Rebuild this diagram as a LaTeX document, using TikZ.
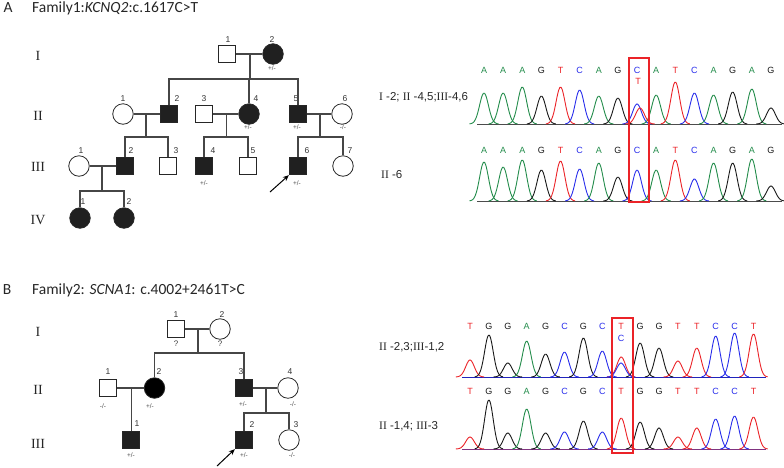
\documentclass[tikz,border=0pt]{standalone}
\usepackage{fontspec}
\setmainfont{Liberation Serif}
\setsansfont{Liberation Sans}
\newfontfamily\titlefont{Carlito}
\usetikzlibrary{calc,arrows.meta}
\definecolor{cgreen}{RGB}{35,140,75}
\definecolor{cred}{RGB}{235,35,40}
\definecolor{cblue}{RGB}{40,45,235}
\definecolor{cblack}{RGB}{25,25,25}
\definecolor{pedline}{RGB}{70,70,70}
\definecolor{pedfill}{RGB}{32,32,32}
\newcommand{\pk}[5]{%
  \pgfmathsetmacro\pklo{#1-3.3*#5}\pgfmathsetmacro\pkhi{#1+3.3*#5}%
  \draw[#4,trace] plot[domain=\pklo:\pkhi,samples=26,smooth] (\x,{#2-(#2-#3)*exp(-0.5*((\x-#1)/#5)^2)});}
\begin{document}
\begin{tikzpicture}[x=1pt,y=-1pt,
  sq/.style={draw=black!85,rectangle,minimum size=17.5pt,inner sep=0pt,line width=0.8pt,fill=white},
  ci/.style={draw=black!85,circle,minimum size=20.5pt,inner sep=0pt,line width=0.8pt,fill=white},
  aff/.style={fill=pedfill},
  lnk/.style={draw=pedline,line width=1.2pt},
  num/.style={font=\sffamily\fontsize{8.5}{9}\selectfont,text=black!80,inner sep=0pt},
  gt/.style={font=\sffamily\fontsize{6.5}{7}\selectfont,text=black!70,inner sep=0pt},
  qm/.style={font=\sffamily\fontsize{8}{8}\selectfont,text=black!75,inner sep=0pt},
  gen/.style={font=\rmfamily\fontsize{14}{14}\selectfont,text=black!85,inner sep=0pt},
  ttl/.style={font=\titlefont\fontsize{15.5}{16}\selectfont,text=black!85,inner sep=0pt,anchor=west},
  lab/.style={font=\sffamily\fontsize{11.5}{12}\selectfont,text=black!85,inner sep=0pt,anchor=west},
  bch/.style={font=\sffamily\fontsize{9}{9}\selectfont,inner sep=0pt},
  trace/.style={line width=0.9pt},
  box/.style={draw=cred,line width=1.2pt,inner sep=0pt},
  prob/.style={-{Stealth[length=6pt,width=5pt]},line width=1pt,black}
]
\useasboundingbox (0,0) rectangle (784,467);
% ---------------- titles
\node[ttl,anchor=center] (pA) at (8,8) {A};
\node[ttl] (tA) at (32,8) {Family1:\textit{KCNQ2}:c.1617C>T};
\node[ttl,anchor=center] (pB) at (7,290) {B};
\node[ttl] (tB) at (32,290) {Family2: \textit{SCNA1}: c.4002+2461T>C};
% ---------------- Family 1 pedigree
\node[gen] (g1a) at (38,56) {I};
\node[gen] (g1b) at (38,116) {II};
\node[gen] (g1c) at (38,167) {III};
\node[gen] (g1d) at (38,220) {IV};
\node[sq] (f1I1) at (227,54) {};
\node[ci,aff] (f1I2) at (273,54) {};
\node[ci] (f1II1) at (123,114) {};
\node[sq,aff] (f1II2) at (169,114) {};
\node[sq] (f1II3) at (204,114) {};
\node[ci,aff] (f1II4) at (249,114) {};
\node[sq,aff] (f1II5) at (298,114) {};
\node[ci] (f1II6) at (342,114) {};
\node[ci] (f1III1) at (79,166) {};
\node[sq,aff] (f1III2) at (125,166) {};
\node[sq] (f1III3) at (168,166) {};
\node[sq,aff] (f1III4) at (204,166) {};
\node[sq] (f1III5) at (248,166) {};
\node[sq,aff] (f1III6) at (298,166) {};
\node[ci] (f1III7) at (343,166) {};
\node[ci,aff] (f1IV1) at (80,218) {};
\node[ci,aff] (f1IV2) at (124,218) {};
% numbers
\node[num] (n1a) at (228,40) {1};
\node[num] (n1b) at (272,40) {2};
\node[num] (n1c) at (123,99) {1};
\node[num] (n1d) at (177,99) {2};
\node[num] (n1e) at (204,99) {3};
\node[num] (n1f) at (256,99) {4};
\node[num] (n1g) at (296,99) {5};
\node[num] (n1h) at (345,99) {6};
\node[num] (n1i) at (81,151) {1};
\node[num] (n1j) at (131,151) {2};
\node[num] (n1k) at (176,151) {3};
\node[num] (n1l) at (213,151) {4};
\node[num] (n1m) at (253,151) {5};
\node[num] (n1n) at (307,151) {6};
\node[num] (n1o) at (350,151) {7};
\node[num] (n1p) at (83,202) {1};
\node[num] (n1q) at (129,202) {2};
% genotypes
\node[gt] (q1a) at (272,68) {+/-};
\node[gt] (q1b) at (248,127.5) {+/-};
\node[gt] (q1c) at (297,127.5) {+/-};
\node[gt] (q1d) at (343,127.5) {-/-};
\node[gt] (q1e) at (204,183) {+/-};
\node[gt] (q1f) at (297,183) {+/-};
% lines
\draw[lnk] (f1I1) -- (f1I2);
\coordinate (f1m1) at ($(f1I1)!0.5!(f1I2)$);
\path (f1m1) ++(0,25) coordinate (f1s1);
\draw[lnk] (f1m1) -- (f1s1);
\draw[lnk] (f1II2.north) |- (f1s1);
\draw[lnk] (f1II5.north) |- (f1s1);
\draw[lnk] (f1II4.north) -- (f1II4.north |- f1s1);
\draw[lnk] (f1II1) -- (f1II2);
\coordinate (f1m2) at ($(f1II1)!0.5!(f1II2)$);
\path (f1m2) ++(0,23) coordinate (f1s2);
\draw[lnk] (f1m2) -- (f1s2);
\draw[lnk] (f1III2.north) |- (f1s2);
\draw[lnk] (f1III3.north) |- (f1s2);
\draw[lnk] (f1II3) -- (f1II4);
\coordinate (f1m3) at ($(f1II3)!0.5!(f1II4)$);
\path (f1m3) ++(0,23) coordinate (f1s3);
\draw[lnk] (f1m3) -- (f1s3);
\draw[lnk] (f1III4.north) |- (f1s3);
\draw[lnk] (f1III5.north) |- (f1s3);
\draw[lnk] (f1II5) -- (f1II6);
\coordinate (f1m4) at ($(f1II5)!0.5!(f1II6)$);
\path (f1m4) ++(0,23) coordinate (f1s4);
\draw[lnk] (f1m4) -- (f1s4);
\draw[lnk] (f1III6.north) |- (f1s4);
\draw[lnk] (f1III7.north) |- (f1s4);
\draw[lnk] (f1III1) -- (f1III2);
\coordinate (f1m5) at ($(f1III1)!0.5!(f1III2)$);
\path (f1m5) ++(0,25) coordinate (f1s5);
\draw[lnk] (f1m5) -- (f1s5);
\draw[lnk] (f1IV1.north) |- (f1s5);
\draw[lnk] (f1IV2.north) |- (f1s5);
\coordinate (f1arr) at (270,192);
\draw[prob] (f1arr) -- (f1III6.south west);
% ---------------- Family 2 pedigree
\node[gen] (g2a) at (38,332) {I};
\node[gen] (g2b) at (38,390) {II};
\node[gen] (g2c) at (38,444) {III};
\node[sq] (f2I1) at (176,329) {};
\node[ci] (f2I2) at (220,329) {};
\node[sq] (f2II1) at (108,388) {};
\node[ci,fill=black] (f2II2) at (154.5,388) {};
\node[sq,aff] (f2II3) at (244,388) {};
\node[ci] (f2II4) at (288,388) {};
\node[sq,aff] (f2III1) at (131,440) {};
\node[sq,aff] (f2III2) at (244,440) {};
\node[ci] (f2III3) at (289,440) {};
\node[num] (n2a) at (176,315) {1};
\node[num] (n2b) at (222,315) {2};
\node[num] (n2c) at (108,372) {1};
\node[num] (n2d) at (159,372) {2};
\node[num] (n2e) at (241,372) {3};
\node[num] (n2f) at (290,372) {4};
\node[num] (n2g) at (137,424) {1};
\node[num] (n2h) at (252,425) {2};
\node[num] (n2i) at (296,425) {3};
\node[qm] (q2a) at (176,344) {?};
\node[qm] (q2b) at (220,344) {?};
\node[gt] (q2c) at (103,406) {-/-};
\node[gt] (q2d) at (150,406) {+/-};
\node[gt] (q2e) at (243,404) {+/-};
\node[gt] (q2f) at (293,404) {-/-};
\node[gt] (q2g) at (131,455) {+/-};
\node[gt] (q2h) at (244,455) {+/-};
\node[gt] (q2i) at (292,455) {-/-};
\draw[lnk] (f2I1) -- (f2I2);
\coordinate (f2m1) at ($(f2I1)!0.5!(f2I2)$);
\path (f2m1) ++(0,24) coordinate (f2s1);
\draw[lnk] (f2m1) -- (f2s1);
\draw[lnk] (f2II2.north) |- (f2s1);
\draw[lnk] (f2II3.north) |- (f2s1);
\draw[lnk] (f2II1) -- (f2II2);
\coordinate (f2m2) at ($(f2II1)!0.5!(f2II2)$);
\draw[lnk] (f2m2) -- (f2m2 |- f2III1.north);
\draw[lnk] (f2II3) -- (f2II4);
\coordinate (f2m3) at ($(f2II3)!0.5!(f2II4)$);
\path (f2m3) ++(0,25) coordinate (f2s3);
\draw[lnk] (f2m3) -- (f2s3);
\draw[lnk] (f2III2.north) |- (f2s3);
\draw[lnk] (f2III3.north) |- (f2s3);
\coordinate (f2arr) at (217,466);
\draw[prob] (f2arr) -- (f2III2.south west);
% ---------------- Family 1 chromatograms
\node[lab] (c1a) at (379,97) {{\rmfamily I} -2; {\rmfamily II} -4,5;{\rmfamily III}-4,6};
\node[lab] (c1b) at (381,175) {{\rmfamily II} -6};
\draw[black!70,line width=0.8pt] (477,124) -- (782,124);
\draw[black!70,line width=0.8pt] (477,201) -- (782,201);
\foreach \b/\c/\tu/\tl [count=\i from 0] in {A/cgreen/93/162,A/cgreen/93/167,A/cgreen/87/160,G/cblack/96/170,T/cred/87/161,C/cblue/90/169,A/cgreen/96/163,G/cblack/98/177,C/cblue/104/170,A/cgreen/95/170,T/cred/82/160,C/cblue/93/179,A/cgreen/95/163,G/cblack/92/163,A/cgreen/89/159,G/cblack/108/186}{
  \pgfmathsetmacro\xx{484+19.13*\i}
  \node[bch,text=\c] (fa\i) at (\xx,70) {\b};
  \node[bch,text=\c] (fb\i) at (\xx,150) {\b};
  \pk{\xx}{124}{\tu}{\c}{4.4}
  \pk{\xx}{201}{\tl}{\c}{4.4}
}
\pk{640}{124}{108}{cred}{4.4}
\node[bch,text=cred] (fmut) at (638,81) {T};
% ---------------- Family 2 chromatograms
\node[lab] (c2a) at (379,347) {{\rmfamily II} -2,3;{\rmfamily III}-1,2};
\node[lab] (c2b) at (379,426) {{\rmfamily II} -1,4; {\rmfamily III}-3};
\draw[cblue!80!black,line width=0.8pt] (462,377) -- (766,377);
\draw[violet!60!gray,line width=0.8pt] (462,449) -- (766,449);
\foreach \b/\c/\tu/\tl [count=\i from 0] in {T/cred/360/437,G/cblack/335/400,G/cblack/363/433,A/cgreen/341/409,G/cblack/354/433,C/cblue/352/432,G/cblack/338/421,C/cblue/351/432,T/cred/357/418,G/cblack/343/422,G/cblack/348/428,T/cred/361/437,T/cred/348/428,C/cblue/336/419,C/cblue/333/416,T/cred/334/417}{
  \pgfmathsetmacro\xx{470+18.9*\i}
  \node[bch,text=\c] (ga\i) at (\xx,326) {\b};
  \node[bch,text=\c] (gb\i) at (\xx,391) {\b};
  \pk{\xx}{377}{\tu}{\c}{4.3}
  \pk{\xx}{449}{\tl}{\c}{4.3}
}
\pk{621}{377}{363}{cblue}{4.3}
\node[bch,text=cblue] (gmut) at (621,338) {C};
% red boxes
\node[box,minimum width=20pt,minimum height=144pt] (box1) at (639,130) {};
\node[box,minimum width=21pt,minimum height=135pt] (box2) at (622.5,385.5) {};
\end{tikzpicture}
\end{document}
